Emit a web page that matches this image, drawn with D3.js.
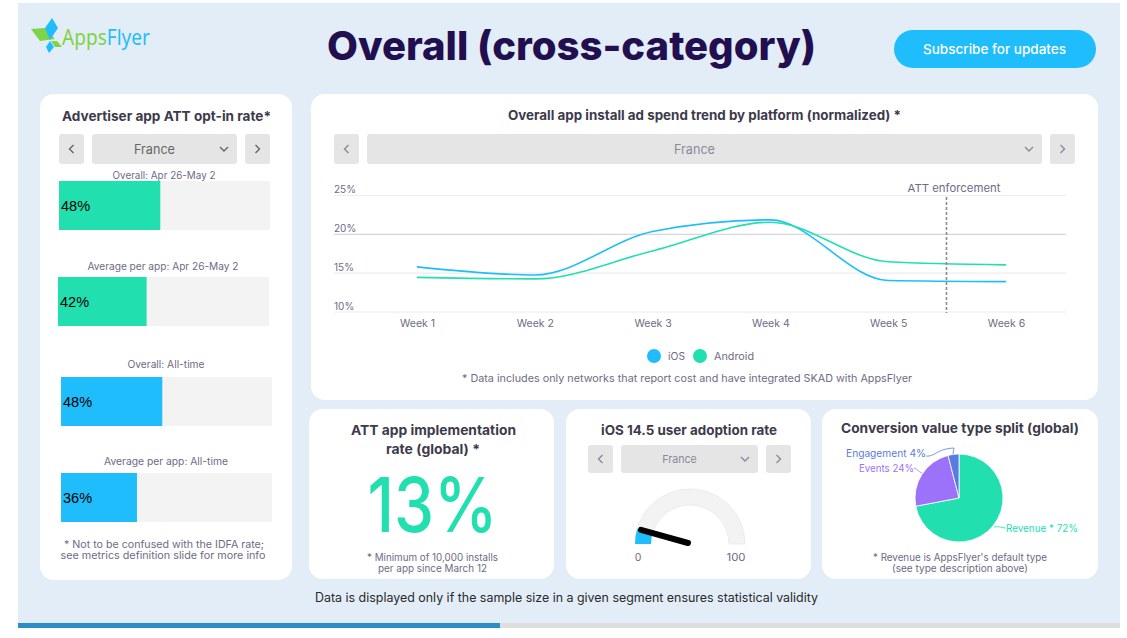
<!DOCTYPE html>
<html><head><meta charset="utf-8">
<script src="https://cdn.jsdelivr.net/npm/d3@7"></script>
<style>html,body{margin:0;padding:0;background:#fff;overflow:hidden}svg{display:block}</style>
</head><body><svg id="c" width="1127" height="638"></svg>
<script>
const weeks=["Week 1","Week 2","Week 3","Week 4","Week 5","Week 6"];
const iosSpend=[15.75,14.7,20.3,21.8,14.0,13.85];
const androidSpend=[14.4,14.2,17.8,21.5,16.4,16.0];
const yTicks=[10,15,20,25];
const optInLabels=["Overall: Apr 26-May 2","Average per app: Apr 26-May 2","Overall: All-time","Average per app: All-time"];
const optInValues=[48,42,48,36];
const gaugeValue=9;
const splitNames=["Revenue","Events","Engagement"];
const splitValues=[72,24,4];

const GREEN="#22dfb0",BLUE="#1fbdfc",PURPLE="#9b72f9",INDIGO="#5b7ae0",DARK="#3d3a4b",MUTED="#6e6a85";
const FONT="Inter, 'Open Sans', sans-serif";
const svg=d3.select("#c");
function T(x,y,s,size,weight,fill,width,anchor){
  const t=svg.append("text").attr("x",x).attr("y",y).attr("font-family",FONT).attr("font-size",size)
    .attr("font-weight",weight).attr("fill",fill).attr("text-anchor",anchor||"middle")
    .attr("dominant-baseline","central").text(s);
  if(width)t.attr("textLength",width).attr("lengthAdjust","spacingAndGlyphs");
  return t;
}
function R(x,y,w,h,r,fill){return svg.append("rect").attr("x",x).attr("y",y).attr("width",w).attr("height",h).attr("rx",r).attr("fill",fill);}
function chev(x,y,dir,col){
  const d=dir==="l"?`M${x+2},${y-4}L${x-2},${y}L${x+2},${y+4}`:dir==="r"?`M${x-2},${y-4}L${x+2},${y}L${x-2},${y+4}`:`M${x-4},${y-2}L${x},${y+2}L${x+4},${y-2}`;
  svg.append("path").attr("d",d).attr("fill","none").attr("stroke",col).attr("stroke-width",1.4);
}
function selector(x1,x2,y,h,col,label,size){
  R(x1,y,25,h,3,"#e5e5e5");R(x1+33,y,x2-x1-33-33,h,3,"#e5e5e5");R(x2-25,y,25,h,3,"#e5e5e5");
  chev(x1+12.5,y+h/2,"l",col);chev(x2-12.5,y+h/2,"r",col);chev(x2-46,y+h/2,"d",col);
  T((x1+x2)/2-10,y+h/2,label,size,400,col,size*3.15);
}
// page
R(18,3,1102,620,0,"#e3edf7");
R(18,623,482,5,0,"#2c8fc4");R(500,623,620,5,0,"#dedede");
// logo
const logo=[["#7ed348","31,29 45,28 55,39 40,41"],["#1fbdfc","52,18 58,28 50,40 45,28"],["#1fbdfc","50,41 54,47 49,53 46,47"],["#7ed348","51,41 57,41 62,47 55,47"]];
logo.forEach(p=>svg.append("polygon").attr("points",p[1]).attr("fill",p[0]));
const logoText=T(62,36,"",22,400,"#7ed348",88,"start").attr("font-family","'Noto Sans', sans-serif");
logoText.append("tspan").attr("fill","#7ed348").text("Apps");
logoText.append("tspan").attr("fill",BLUE).text("Flyer");
T(571.5,45,"Overall (cross-category)",40,800,"#210f50",489);
R(894,30,202,38,19,BLUE);
T(994.5,49,"Subscribe for updates",13.5,500,"#fff",143);
// cards
R(40,94,252,486,14,"#fff");R(311,94,787,306,14,"#fff");R(309,409,245,170,14,"#fff");R(566,409,245,170,14,"#fff");R(822,409,276,170,14,"#fff");
// left panel
T(166.5,116,"Advertiser app ATT opt-in rate*",13.5,700,DARK,209);
selector(59,270,134,30,"#666","France",13);
const barX=d3.scaleLinear().domain([0,100]).range([0,211]);
const bx=[59,58,61,61],by=[181,277,377,473],lw=[103,151,77,124],ly=[175,266,364,461];
optInValues.forEach((v,i)=>{
  T(bx[i]+105,ly[i],optInLabels[i],10,400,MUTED,lw[i]);
  R(bx[i],by[i],barX(100),49,0,"#f3f3f3");
  R(bx[i],by[i],barX(v),49,0,i<2?GREEN:BLUE);
  T(bx[i]+2,by[i]+25,v+"%",14.5,400,"#000",null,"start").attr("font-family","'Liberation Sans', sans-serif");
});
T(164,544,"* Not to be confused with the IDFA rate;",10.5,400,MUTED,200);
T(163,555,"see metrics definition slide for more info",10.5,400,MUTED,205);
// line chart
T(704.5,115,"Overall app install ad spend trend by platform (normalized) *",13,700,DARK,393);
selector(334,1075,134,30,"#8a8a9a","France",13);
const x=d3.scalePoint().domain(weeks).range([417,1006]);
const y=d3.scaleLinear().domain([10,25]).range([311.5,195]);
const gy=svg.append("g").attr("transform","translate(334,0)")
  .call(d3.axisRight(y).tickValues(yTicks).tickSize(732).tickFormat(d=>d+"%"));
gy.select(".domain").remove();
gy.selectAll("line").attr("stroke",d=>d===20?"#d5d5e0":"#ececf1").attr("stroke-width",1.2);
gy.selectAll("text").attr("x",0).attr("dy",0).attr("y",-6.5).attr("text-anchor","start").attr("dominant-baseline","central")
  .attr("font-family",FONT).attr("font-size",10).attr("fill",MUTED);
const gx=svg.append("g").attr("transform","translate(0,312)").call(d3.axisBottom(x).tickSize(0).tickPadding(0));
gx.select(".domain").remove();
gx.selectAll("text").attr("y",11).attr("dy",0).attr("dominant-baseline","central").attr("font-family",FONT).attr("font-size",10.5).attr("fill",MUTED);
const line=d3.line().x((d,i)=>x(weeks[i])).y(d=>y(d)).curve(d3.curveMonotoneX);
svg.append("path").attr("d",line(iosSpend)).attr("fill","none").attr("stroke",BLUE).attr("stroke-width",1.6);
svg.append("path").attr("d",line(androidSpend)).attr("fill","none").attr("stroke",GREEN).attr("stroke-width",1.6);
svg.append("line").attr("x1",946.5).attr("x2",946.5).attr("y1",197).attr("y2",313).attr("stroke","#8c8c8c").attr("stroke-width",1.6).attr("stroke-dasharray","3,2");
T(954,188,"ATT enforcement",11,400,MUTED,93);
svg.append("circle").attr("cx",654).attr("cy",356).attr("r",7).attr("fill",BLUE);
T(668,356,"iOS",10.5,400,MUTED,17,"start");
svg.append("circle").attr("cx",700).attr("cy",356).attr("r",7).attr("fill",GREEN);
T(714,356,"Android",10.5,400,MUTED,40,"start");
T(687,378,"* Data includes only networks that report cost and have integrated SKAD with AppsFlyer",10.5,400,MUTED,450);
// ATT implementation
T(433.5,430,"ATT app implementation",13.5,700,DARK,165);
T(433,449,"rate (global) *",13.5,700,DARK,94);
T(432.5,504,"13%",76,500,GREEN,130);
T(432.5,557,"* Minimum of 10,000 installs",10,400,MUTED,131);
T(432.5,568,"per app since March 12",10,400,MUTED,109);
// gauge
T(689,430,"iOS 14.5 user adoption rate",13.5,700,DARK,176);
selector(588,791,445,28,"#8a8a9a","France",11);
const gc=[690,544];
const gAng=d3.scaleLinear().domain([0,100]).range([-Math.PI/2,Math.PI/2]);
const gArc=d3.arc().innerRadius(39).outerRadius(55);
const g=svg.append("g").attr("transform",`translate(${gc[0]},${gc[1]})`);
g.append("path").attr("d",gArc({startAngle:gAng(0),endAngle:gAng(100)})).attr("fill","#f3f3f3").attr("stroke","#e8e8e8").attr("stroke-width",.8);
g.append("path").attr("d",gArc({startAngle:gAng(0),endAngle:gAng(gaugeValue)})).attr("fill",BLUE);
const na=gAng(gaugeValue);
g.append("line").attr("x1",-2).attr("y1",-1).attr("x2",51*Math.sin(na)).attr("y2",-51*Math.cos(na)).attr("stroke","#000").attr("stroke-width",6).attr("stroke-linecap","round");
T(638,557,"0",10.5,400,MUTED);
T(736,557,"100",10.5,400,MUTED,19);
// pie
T(960,428,"Conversion value type split (global)",13.5,700,DARK,238);
const pc=[959,498],pr=44;
const pie=d3.pie().sort(null)(splitValues);
const parc=d3.arc().innerRadius(0).outerRadius(pr);
const pg=svg.append("g").attr("transform",`translate(${pc[0]},${pc[1]})`);
const pcol=[GREEN,PURPLE,INDIGO];
pg.selectAll("path").data(pie).join("path").attr("d",parc).attr("fill",(d,i)=>pcol[i]).attr("stroke","#fff").attr("stroke-width",.8);
svg.append("path").attr("d","M994,527C1000,526 1002,528 1006,528").attr("fill","none").attr("stroke",GREEN).attr("stroke-width",.8);
svg.append("path").attr("d","M914,468C918,469 917,471 922,473").attr("fill","none").attr("stroke",PURPLE).attr("stroke-width",.8);
svg.append("path").attr("d","M926,456C935,457 936,449 954,448L953,454").attr("fill","none").attr("stroke",INDIGO).attr("stroke-width",.8);
T(926,453.5,`${splitNames[2]} ${splitValues[2]}%`,10.5,400,INDIGO,80,"end");
T(914,468.5,`${splitNames[1]} ${splitValues[1]}%`,10.5,400,PURPLE,55,"end");
T(1006,528.5,`${splitNames[0]} * ${splitValues[0]}%`,10.5,400,GREEN,72,"start");
T(960,557,"* Revenue is AppsFlyer's default type",10,400,MUTED,174);
T(960,568,"(see type description above)",10,400,MUTED,136);
T(566.5,597,"Data is displayed only if the sample size in a given segment ensures statistical validity",12.5,400,"#2a2a2a",503);
</script></body></html>
